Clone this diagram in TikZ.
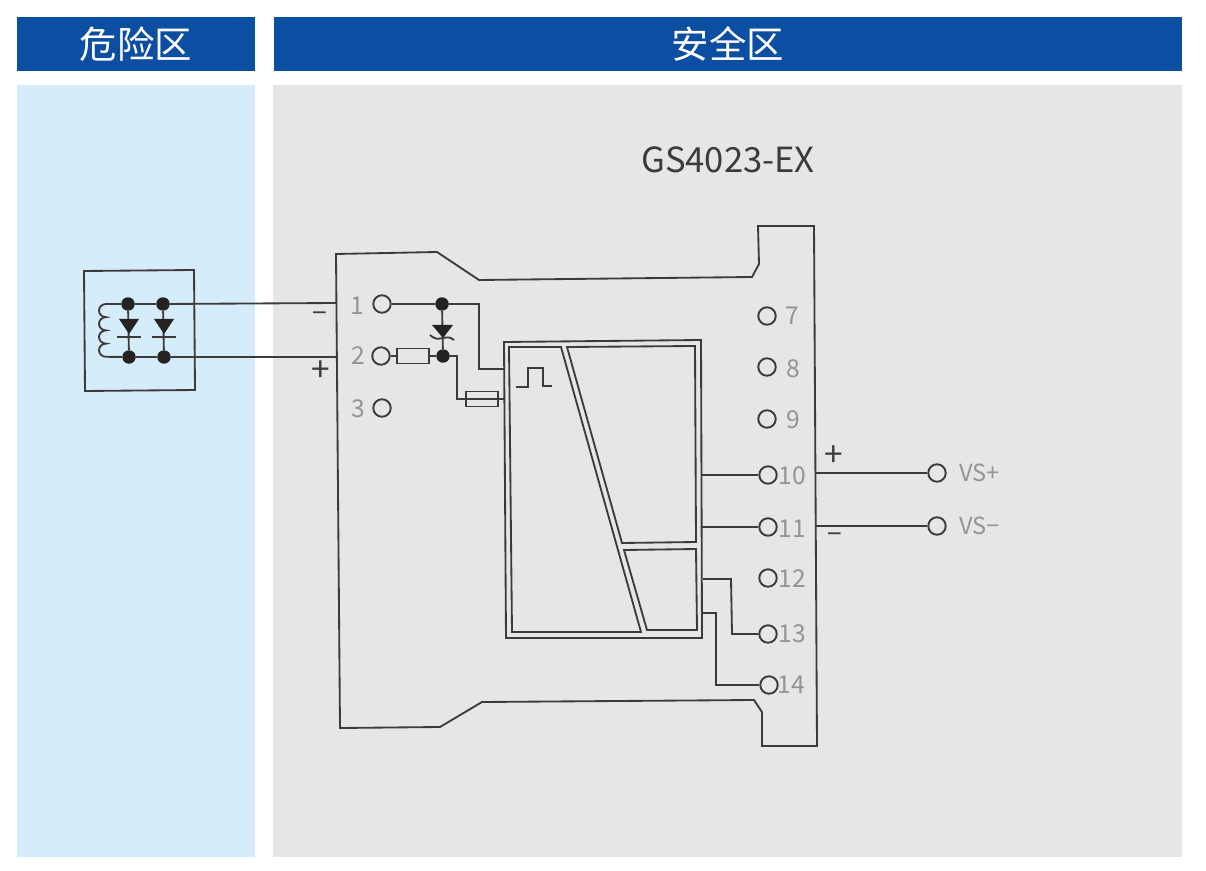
\documentclass[tikz,border=0pt]{standalone}
\usepackage{fontspec}
\setmainfont{Noto Sans CJK SC}
\definecolor{hdrblue}{RGB}{11,78,162}
\definecolor{hazblue}{RGB}{213,237,251}
\definecolor{safegray}{RGB}{229,230,232}
\definecolor{wire}{RGB}{62,58,57}
\definecolor{lbl}{RGB}{148,148,148}
\begin{document}
\begin{tikzpicture}
	[x=0.02cm, y=-0.02cm,
	line/.style={draw=wire, line width=1.05pt},
	hdr/.style={text=white, font=\fontsize{21.3}{22}\selectfont},
	term/.style={circle, draw=wire, line width=1.1pt, minimum size=0.35cm, inner sep=0pt},
	dot/.style={circle, fill=wire!60!black, minimum size=0.27cm, inner sep=0pt},
	num/.style={text=lbl, font=\fontsize{14}{14}\selectfont, inner sep=0pt},
	vs/.style={text=lbl, font=\fontsize{13.4}{14}\selectfont, inner sep=0pt, anchor=west},
	minussign/.style={text=wire, font=\fontsize{15}{15}\selectfont, inner sep=0pt},
	plussign/.style={text=wire, font=\fontsize{19}{19}\selectfont, inner sep=0pt},
	part/.style={draw=wire, line width=0.9pt, inner sep=0pt}]
	\useasboundingbox (0,0) rectangle (1206,871);
	\fill [white] (0,0) rectangle (1206,871);
	% zones
	\fill [hdrblue] (17,17) rectangle (255,71);
	\fill [hdrblue] (274,17) rectangle (1182,71);
	\fill [hazblue] (17,85) rectangle (255,857);
	\fill [safegray] (273,85) rectangle (1182,857);
	\node [hdr] (hazard) at (136,44) {危险区};
	\node [hdr] (safe) at (728,44) {安全区};
	\node [text=wire, font=\fontsize{19.7}{20}\selectfont] (model) at (728,160) {GS4023-EX};
	% housing
	\draw [line] (336,254) -- (437,252) -- (479,280) -- (752,277) -- (759,264) -- (758,226) -- (814,226)
		-- (817,746) -- (762,746) -- (762,712) -- (754,700) -- (482,702) -- (440,727) -- (340,728) -- cycle;
	% module
	\draw [line] (504,342) -- (701,340) -- (702,638) -- (506,638) -- cycle;
	\draw [line] (509,347) -- (561,347) -- (641,632) -- (512,632) -- cycle;
	\draw [line] (567,347) -- (695,346) -- (696,542) -- (622,543) -- cycle;
	\draw [line] (624,550) -- (696,549) -- (697,630) -- (647,630) -- cycle;
	\draw [line] (516,387) -- (528,387) -- (528,368) -- (543,368) -- (543,386) -- (552,386);
	\coordinate (in1) at (505,369);
	\coordinate (in2) at (505,399);
	\coordinate (out10) at (702,475);
	\coordinate (out11) at (702,527);
	\coordinate (out13) at (703,579);
	\coordinate (out14) at (703,613);
	\coordinate (side1) at (336,303);
	\coordinate (side2) at (337,357);
	\coordinate (side3) at (816,473);
	\coordinate (side4) at (816,526);
	% sensor
	\draw [line] (84,271) -- (194,270) -- (195,390) -- (85,391) -- cycle;
	\node [dot] (s1) at (128,304) {};
	\node [dot] (s2) at (163,304) {};
	\node [dot] (s3) at (129,357) {};
	\node [dot] (s4) at (164,357) {};
	\draw [line] (s1) -- (s3);
	\draw [line] (s2) -- (s4);
	\draw [line] (s1) -- (s2);
	\draw [line] (s3) -- (s4);
	\draw [line] (s1) -- (106,304) arc (270:90:7 and 6.6) arc (270:90:7 and 6.6)
		arc (270:90:7 and 6.6) arc (270:90:7 and 6.6) -- (s3);
	\foreach \x in {129,164} {
		\fill [wire!60!black] (\x-10,319) -- (\x+10,319) -- (\x,334) -- cycle;
		\draw [line] (\x-12,337) -- (\x+12,337);
	}
	% terminals
	\node [term] (t1) at (382,304) {};
	\node [term] (t2) at (381,356) {};
	\node [term] (t3) at (382,408) {};
	\node [term] (t7) at (767,316) {};
	\node [term] (t8) at (767,367) {};
	\node [term] (t9) at (767,419) {};
	\node [term] (t10) at (768,475) {};
	\node [term] (t11) at (768,527) {};
	\node [term] (t12) at (768,578) {};
	\node [term] (t13) at (768,634) {};
	\node [term] (t14) at (769,685) {};
	\node [term] (vp) at (937,473) {};
	\node [term] (vm) at (937,526) {};
	\node [num] at (357,306) {1};
	\node [num] at (358,356) {2};
	\node [num] at (358,409) {3};
	\node [num] at (792,316) {7};
	\node [num] at (793,369) {8};
	\node [num] at (793,420) {9};
	\node [num] at (792,476) {10};
	\node [num] at (792,529) {11};
	\node [num] at (792,579) {12};
	\node [num] at (792,634) {13};
	\node [num] at (791,685) {14};
	\node [vs] at (959,473) {VS+};
	\node [vs] at (959,526) {VS\textminus};
	\node [minussign] at (320,317) {\textminus};
	\node [plussign] at (321,371) {+};
	\node [plussign] at (834,456) {+};
	\node [minussign] at (835,538) {\textminus};
	% input wiring
	\draw [line] (s2) -- (side1);
	\draw [line] (s4) -- (side2);
	\node [dot] (j1) at (442,304) {};
	\node [dot] (j2) at (443,356) {};
	\draw [line] (t1) -- (j1) -- (479,304) -- (479,369) -- (in1);
	\draw [line] (j1) -- (j2);
	\fill [wire!60!black] (432,325) -- (453,325) -- (443,338) -- cycle;
	\draw [line] (430,335) .. controls (436,340) and (438,339) .. (443,338) .. controls (448,337) and (450,337) .. (454,340);
	\node [part, fill=safegray, minimum width=0.64cm, minimum height=0.3cm] (r1) at (413,356) {};
	\draw [line] (t2) -- (r1) -- (j2);
	\node [part, fill=safegray, minimum width=0.64cm, minimum height=0.3cm] (f1) at (482,399) {};
	\draw [line] (j2) -- (457,356) -- (457,399) -- (in2);
	% output wiring
	\draw [line] (out10) -- (t10);
	\draw [line] (out11) -- (t11);
	\draw [line] (out13) -- (731,579) -- (732,634) -- (t13);
	\draw [line] (out14) -- (716,613) -- (716,685) -- (t14);
	\draw [line] (side3) -- (vp);
	\draw [line] (side4) -- (vm);
\end{tikzpicture}
\end{document}
